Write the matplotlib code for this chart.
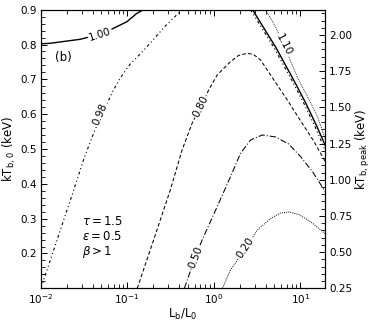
import matplotlib
matplotlib.use('Agg')
import matplotlib.pyplot as plt
from matplotlib.ticker import MultipleLocator

# contour lines: (Lb/L0, kT_b,0 in keV)
c100_left_x = [0.01, 0.01288, 0.02866, 0.0488, 0.0696, 0.0995, 0.1298, 0.1548]
c100_left_y = [0.802, 0.8035, 0.815, 0.8294, 0.8466, 0.8655, 0.8897, 0.9]
c100_right_x = [2.805, 3.662, 5.177, 8.367, 11.52, 15.44, 19.5]
c100_right_y = [0.9, 0.8532, 0.7929, 0.6981, 0.6321, 0.566, 0.5086]

c098_left_x = [0.0101, 0.01359, 0.0182, 0.02378, 0.0313, 0.03945,
               0.0488, 0.0696, 0.0832, 0.1086, 0.1418, 0.1851, 0.276, 0.4309]
c098_left_y = [0.1, 0.1956, 0.2904, 0.3765, 0.4684, 0.5345,
               0.589, 0.6694, 0.7039, 0.7441, 0.7728, 0.8044, 0.8532, 0.9]
c098_right_x = [2.66, 3.471, 4.909, 7.93, 10.92, 14.64, 19.5]
c098_right_y = [0.9, 0.8532, 0.7929, 0.6981, 0.6321, 0.566, 0.4943]

c080_x = [0.1309, 0.2021, 0.3152, 0.4309, 0.5623, 0.7015, 0.875, 1.095, 1.561,
          1.931, 2.436, 2.88, 3.471, 4.947, 7.07, 10.08, 14.25, 19.5]
c080_y = [0.1, 0.2387, 0.3823, 0.4972, 0.5738, 0.6215, 0.6694, 0.7125, 0.7507,
          0.7685, 0.7748, 0.7714, 0.7556, 0.6981, 0.6407, 0.5804, 0.523, 0.4627]

c050_x = [0.458, 0.614, 0.734, 1.095, 1.561, 2.037, 2.66, 3.633, 5.177, 7.32,
          10.08, 13.88, 19.5]
c050_y = [0.1, 0.1907, 0.2387, 0.3343, 0.4205, 0.4877, 0.5258, 0.5402, 0.5345,
          0.5144, 0.4779, 0.434, 0.3765]

c020_x = [1.261, 1.561, 2.328, 3.179, 4.532, 5.916, 7.38, 9.556, 13.16, 19.5]
c020_y = [0.1, 0.1526, 0.2149, 0.2674, 0.3004, 0.3162, 0.3191, 0.3119, 0.2912, 0.2559]

c110_x = [3.966, 5.177, 6.461, 9.307, 12.15, 15.86, 19.5]
c110_y = [0.9, 0.8503, 0.7986, 0.7039, 0.6493, 0.5919, 0.5258]

# contour labels: text, x, y, angle
label_text = ['1.00', '0.98', '0.80', '0.50', '0.20', '1.10']
label_x = [0.0488, 0.0488, 0.7015, 0.614, 2.328, 6.461]
label_y = [0.8294, 0.6005, 0.6215, 0.1907, 0.2149, 0.7986]
label_rot = [18, 67, 64, 69, 56, -62]

fig = plt.figure(figsize=(3.74, 3.21), dpi=100)
ax = fig.add_axes([0.1083, 0.1019, 0.7620, 0.8679])

ax.plot(c100_left_x, c100_left_y, color='black', lw=1.0)
ax.plot(c100_right_x, c100_right_y, color='black', lw=1.0)
dash98 = (0, (2.5, 2.5, 1, 2.5, 1, 2.5))
ax.plot(c098_left_x, c098_left_y, color='black', lw=0.8, linestyle=dash98)
ax.plot(c098_right_x, c098_right_y, color='black', lw=0.8, linestyle=dash98)
ax.plot(c080_x, c080_y, color='black', lw=0.75, linestyle=(0, (3.5, 2.2)))
ax.plot(c050_x, c050_y, color='black', lw=0.75, linestyle=(0, (6, 2, 1, 2)))
ax.plot(c020_x, c020_y, color='black', lw=0.7, linestyle=(0, (1, 1.2)))
ax.plot(c110_x, c110_y, color='black', lw=0.6, linestyle=(0, (1, 1.2)))

for t, x, y, r in zip(label_text, label_x, label_y, label_rot):
    ax.text(x, y, t, rotation=r, rotation_mode='anchor', ha='center', va='center',
            fontsize=7.5, zorder=5,
            bbox=dict(fc='white', ec='none', pad=0.6))

ax.set_xscale('log')
ax.set_xlim(0.01, 19.5)
ax.set_ylim(0.1, 0.9)
ax.yaxis.set_major_locator(MultipleLocator(0.1))
ax.yaxis.set_minor_locator(MultipleLocator(0.02))
ax.set_yticks([0.2, 0.3, 0.4, 0.5, 0.6, 0.7, 0.8, 0.9])

ax.tick_params(which='both', direction='in', top=True, right=False, labelsize=7.5, pad=2.5)
ax.tick_params(which='major', length=4.5, width=0.7)
ax.tick_params(which='minor', length=3.2, width=0.6)

ax.set_xlabel(r'L$_{\rm b}$/L$_{0}$', fontsize=8.5, labelpad=1)
ax.set_ylabel(r'kT$_{\rm b,\,0}$ (keV)', fontsize=8.5, labelpad=2)

ax2 = ax.twinx()
ax2.set_ylim(0.25, 2.175)
ax2.yaxis.set_major_locator(MultipleLocator(0.25))
ax2.yaxis.set_minor_locator(MultipleLocator(0.05))
ax2.yaxis.set_major_formatter(matplotlib.ticker.FormatStrFormatter('%.2f'))
ax2.tick_params(which='both', direction='in', labelsize=7.5, pad=2.5)
ax2.tick_params(which='major', length=4.5, width=0.7)
ax2.tick_params(which='minor', length=3.2, width=0.6)
ax2.set_ylabel(r'kT$_{\rm b,\,peak}$ (keV)', fontsize=8.5, labelpad=1)

ax.text(0.051, 0.83, '(b)', transform=ax.transAxes, fontsize=8.5, va='center')
ax.text(0.145, 0.239, r'$\tau = 1.5$', transform=ax.transAxes, fontsize=8.5, va='center')
ax.text(0.145, 0.185, r'$\epsilon = 0.5$', transform=ax.transAxes, fontsize=8.5, va='center')
ax.text(0.145, 0.131, r'$\beta > 1$', transform=ax.transAxes, fontsize=8.5, va='center')

fig.savefig('out.png', dpi=100)
